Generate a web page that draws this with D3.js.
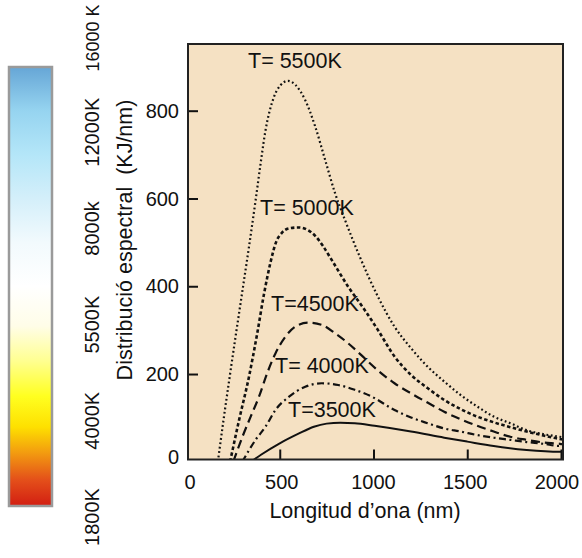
<!DOCTYPE html>
<html>
<head>
<meta charset="utf-8">
<script src="https://cdn.jsdelivr.net/npm/d3@7"></script>
<style>
  body { margin: 0; background: #fff; }
  svg { display: block; font-family: "Liberation Sans", Arial, sans-serif; }
</style>
</head>
<body>
<div id="chart"></div>
<script>
// wavelengths (nm) and spectral values (KJ/nm)
const wl5500 = [170, 200, 230, 266, 301, 336, 371, 398, 424, 468, 504, 544, 583, 636, 689, 742, 795, 848, 927, 1024, 1112, 1200, 1288, 1377, 1465, 1553, 1641, 1729, 1817, 1906, 1994, 2010]
const sp5500 = [0, 95, 185, 290, 390, 490, 595, 680, 755, 830, 858, 868, 859, 824, 764, 688, 612, 551, 467, 376, 308, 259, 217, 183, 152, 126, 103, 88, 72, 63, 57, 56]

const wl5000 = [235, 283, 336, 380, 415, 451, 480, 512, 550, 600, 650, 689, 730, 777, 865, 953, 1024, 1112, 1200, 1288, 1377, 1465, 1553, 1641, 1729, 1817, 1906, 1994, 2010]
const sp5000 = [0, 95, 194, 293, 380, 455, 500, 522, 532, 534, 528, 515, 492, 460, 399, 346, 300, 240, 198, 168, 141, 120, 103, 90, 79, 69, 60, 52, 51]

const wl4500 = [252, 301, 345, 389, 433, 477, 530, 583, 653, 724, 795, 865, 935, 1024, 1112, 1200, 1288, 1377, 1465, 1553, 1641, 1729, 1817, 1906, 1994, 2010]
const sp4500 = [0, 57, 103, 148, 202, 247, 285, 308, 317, 312, 293, 270, 243, 208, 179, 156, 135, 114, 97, 82, 69, 57, 50, 44, 41, 40]

const wl4000 = [300, 371, 424, 477, 548, 636, 724, 812, 900, 988, 1112, 1200, 1288, 1377, 1465, 1553, 1641, 1729, 1817, 1906, 1994, 2010]
const sp4000 = [0, 50, 80, 118, 148, 171, 179, 175, 164, 149, 118, 101, 88, 76, 69, 61, 55, 50, 45, 41, 36, 36]

const wl3500 = [345, 400, 500, 600, 682, 750, 823, 900, 1006, 1200, 1377, 1500, 1641, 1817, 1994, 2010]
const sp3500 = [0, 16, 42, 64, 80, 87, 89, 88, 82, 69, 55, 46, 36, 27, 23, 23]

const curveNames = ['T= 5500K', 'T= 5000K', 'T=4500K', 'T= 4000K', 'T=3500K']
const xTicks = [0, 500, 1000, 1500, 2000]
const yTicks = [0, 200, 400, 600, 800]
const barTicks = ['1800K', '4000K', '5500K', '8000k', '12000K', '16000 K']

const W = 582, H = 558
const svg = d3.select('#chart').append('svg')
    .attr('width', W)
    .attr('height', H)

const x = d3.scaleLinear([0, 2000], [186, 561])
const y = d3.scaleLinear([0, 800], [461.8, 110.7])
const frame = { left: 188, right: 563, top: 44, bottom: 459.5 }

// colour temperature bar
const defs = svg.append('defs')
const grad = defs.append('linearGradient')
    .attr('id', 'tempbar')
    .attr('x1', 0).attr('y1', 1).attr('x2', 0).attr('y2', 0)
const stops = [
    [0, '#d21e12'], [0.06, '#e4501a'], [0.12, '#f29a10'], [0.18, '#fee000'],
    [0.25, '#ffff20'], [0.33, '#ffff90'], [0.41, '#fffde8'], [0.5, '#ffffff'],
    [0.6, '#f2fafd'], [0.7, '#d4effa'], [0.8, '#b4e6f8'], [0.9, '#96d4f0'], [1, '#66a6d6']
]
grad.selectAll('stop').data(stops).join('stop')
    .attr('offset', d => d[0])
    .attr('stop-color', d => d[1])

svg.append('rect')
    .attr('x', 9).attr('y', 67)
    .attr('width', 43).attr('height', 439)
    .attr('fill', 'url(#tempbar)')
    .attr('stroke', '#9a9a9a')
    .attr('stroke-width', 2.5)

const barY = d3.scalePoint(barTicks, [517, 36])
svg.append('g').selectAll('text').data(barTicks).join('text')
    .attr('transform', d => `translate(99,${d === '16000 K' ? 38 : barY(d)}) rotate(-90)`)
    .attr('text-anchor', 'middle')
    .attr('font-size', d => d === '16000 K' ? 18 : 20)
    .attr('fill', '#111')
    .text(d => d)

// plot frame
svg.append('rect')
    .attr('x', frame.left).attr('y', frame.top)
    .attr('width', frame.right - frame.left)
    .attr('height', frame.bottom - frame.top)
    .attr('fill', '#f5e1c3')

defs.append('clipPath').attr('id', 'plotclip')
    .append('rect')
    .attr('x', frame.left).attr('y', frame.top)
    .attr('width', frame.right - frame.left)
    .attr('height', frame.bottom - frame.top)

const series = [
    { wl: wl5500, sp: sp5500, dash: '1.8,2.6', width: 2.2 },
    { wl: wl5000, sp: sp5000, dash: '3.5,2.5', width: 2.6 },
    { wl: wl4500, sp: sp4500, dash: '9,5', width: 2.2 },
    { wl: wl4000, sp: sp4000, dash: '7,3.5,2,3.5', width: 2.2 },
    { wl: wl3500, sp: sp3500, dash: null, width: 2 }
]

const line = d3.line()
    .x(d => x(d[0]))
    .y(d => y(d[1]))
    .curve(d3.curveMonotoneX)

svg.append('g')
    .attr('clip-path', 'url(#plotclip)')
    .selectAll('path').data(series).join('path')
    .attr('d', s => line(d3.zip(s.wl, s.sp)))
    .attr('fill', 'none')
    .attr('stroke', '#111')
    .attr('stroke-width', s => s.width)
    .attr('stroke-dasharray', s => s.dash)

// axes (inward ticks)
const xAxis = d3.axisBottom(x)
    .tickValues(xTicks.filter(v => v > 0))
    .tickSizeInner(-10)
    .tickSizeOuter(0)
    .tickFormat('')
const gx = svg.append('g')
    .attr('transform', `translate(0,${frame.bottom})`)
    .call(xAxis)
gx.select('.domain').remove()
gx.selectAll('line').attr('stroke', '#111').attr('stroke-width', 2)

const yAxis = d3.axisLeft(y)
    .tickValues(yTicks.filter(v => v > 0))
    .tickSizeInner(-10)
    .tickSizeOuter(0)
    .tickFormat('')
const gy = svg.append('g')
    .attr('transform', `translate(${frame.left},0)`)
    .call(yAxis)
gy.select('.domain').remove()
gy.selectAll('line').attr('stroke', '#111').attr('stroke-width', 2)

svg.append('rect')
    .attr('x', frame.left).attr('y', frame.top)
    .attr('width', frame.right - frame.left)
    .attr('height', frame.bottom - frame.top)
    .attr('fill', 'none')
    .attr('stroke', '#222')
    .attr('stroke-width', 2)

// tick labels
svg.append('g').selectAll('text').data(xTicks).join('text')
    .attr('x', d => x(d) + 4 - d * 0.004)
    .attr('y', 489)
    .attr('text-anchor', 'middle')
    .attr('font-size', 20)
    .attr('fill', '#111')
    .text(d => d)

svg.append('g').selectAll('text').data(yTicks).join('text')
    .attr('x', 179)
    .attr('y', d => Math.min(y(d), 457))
    .attr('dy', '0.36em')
    .attr('text-anchor', 'end')
    .attr('font-size', 20)
    .attr('fill', '#111')
    .text(d => d)

// axis titles
svg.append('text')
    .attr('x', 365).attr('y', 518)
    .attr('text-anchor', 'middle')
    .attr('font-size', 21.5)
    .attr('fill', '#111')
    .text('Longitud d\u2019ona (nm)')

svg.append('text')
    .attr('transform', 'translate(132,240) rotate(-90)')
    .attr('text-anchor', 'middle')
    .attr('font-size', 21.5)
    .attr('fill', '#111')
    .style('white-space', 'pre')
    .text('Distribució espectral  (KJ/nm)')

// curve labels
const labelPos = [[248, 68], [260, 215], [271, 311], [275, 373], [288, 417]]
svg.append('g').selectAll('text').data(curveNames).join('text')
    .attr('x', (d, i) => labelPos[i][0])
    .attr('y', (d, i) => labelPos[i][1])
    .attr('font-size', 21.5)
    .attr('fill', '#111')
    .style('white-space', 'pre')
    .text(d => d)
</script>
</body>
</html>
